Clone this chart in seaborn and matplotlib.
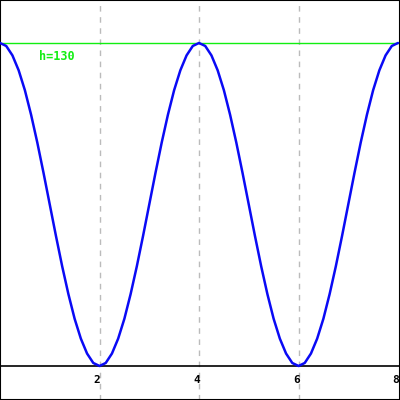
import matplotlib
matplotlib.use("Agg")
import matplotlib.pyplot as plt
import seaborn as sns
import pandas as pd

# curve, x step 0.125
x_vals = [i * 0.125 for i in range(65)]
h_vals = [130, 128.8, 125, 119, 111, 101.1, 89.9, 77.7, 65, 52.3, 40.1, 28.9, 19, 11, 5, 1.2,
          0, 1.2, 5, 11, 19, 28.9, 40.1, 52.3, 65, 77.7, 89.9, 101.1, 111, 119, 125, 128.8,
          130, 128.8, 125, 119, 111, 101.1, 89.9, 77.7, 65, 52.3, 40.1, 28.9, 19, 11, 5, 1.2,
          0, 1.2, 5, 11, 19, 28.9, 40.1, 52.3, 65, 77.7, 89.9, 101.1, 111, 119, 125, 128.8,
          130]
tick_pos = [2, 4, 6, 8]
tick_labels = ["2", "4", "6", "8"]
h_level = 130

df = pd.DataFrame({"x": x_vals, "h": h_vals})

sns.set_style("white")
fig = plt.figure(figsize=(4, 4), dpi=100)
ax = fig.add_axes([0, 0, 1, 1])

for t in tick_pos[:-1]:
    ax.axvline(t, color="#bbbbbb", linestyle=(0, (4, 4)), linewidth=1, zorder=1)
ax.axhline(0, color="black", linewidth=1.2, zorder=2)
ax.axhline(h_level, color="#11ee11", linewidth=1, zorder=2)

sns.lineplot(data=df, x="x", y="h", ax=ax, color="#0a0af5", linewidth=1.8, zorder=3)

for t, lab in zip(tick_pos, tick_labels):
    ax.text(t + 0.02, -3.5, lab, ha="right", va="top", fontsize=8, fontweight="bold",
            family="DejaVu Sans Mono", color="black")
ax.text(0.78, 127, f"h={h_level}", ha="left", va="top", fontsize=8.5, fontweight="bold",
        family="DejaVu Sans Mono", color="#11ee11")

ax.set_xlim(0, 8.04)
ax.set_ylim(-13.7, 147.3)
ax.set_xticks([])
ax.set_yticks([])
ax.set_xlabel("")
ax.set_ylabel("")
for s in ax.spines.values():
    s.set_visible(True)
    s.set_color("black")
    s.set_linewidth(1.5)

fig.savefig("out.png", dpi=100)
